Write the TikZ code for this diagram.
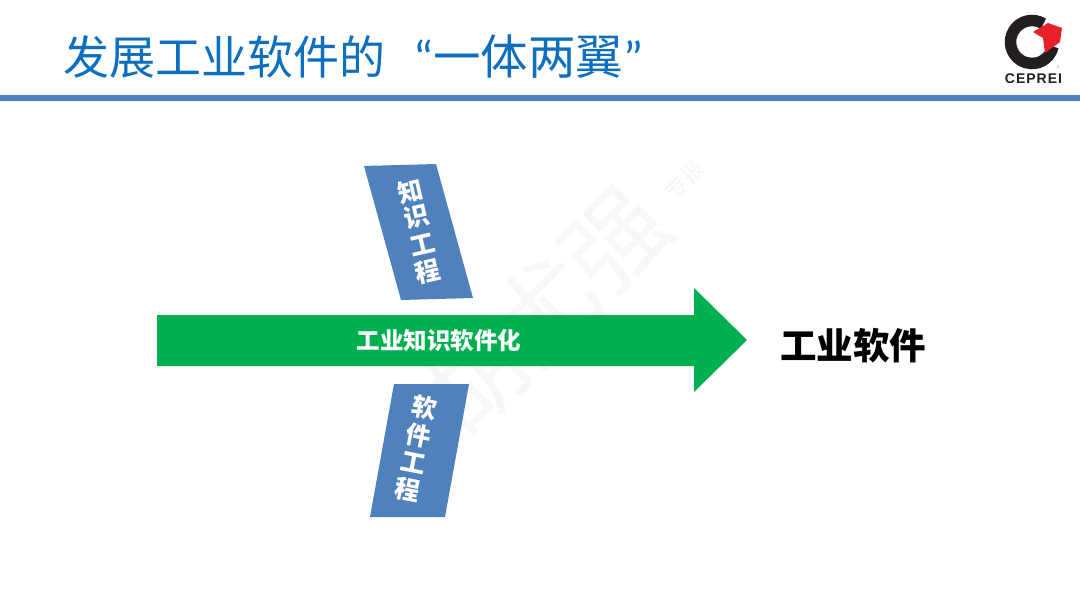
\documentclass[tikz,border=0pt]{standalone}
\usepackage{fontspec}
\setmainfont{Noto Sans CJK SC}
\newfontfamily\latinb[LetterSpace=7]{Liberation Sans}
\newfontfamily\quotefont{Carlito}
\definecolor{titleblue}{HTML}{0F6FBF}
\definecolor{barblue}{HTML}{4F81BD}
\definecolor{arrowgreen}{HTML}{00B050}
\definecolor{logored}{HTML}{E8202A}
\definecolor{logoblack}{HTML}{231F20}
\tikzset{
  x=1pt,y=-1pt,
  wing/.style={fill=barblue,draw=none},
  wingtext/.style={text=white,font=\fontsize{25}{27}\selectfont\bfseries,inner sep=0pt},
}
\begin{document}
\begin{tikzpicture}
\useasboundingbox (0,0) rectangle (1080,608);
\fill[white] (0,0) rectangle (1080,608);
% watermark
\node[text=black!3,rotate=45,font=\fontsize{100}{100}\selectfont,inner sep=0pt] (wm) at (545,310) {胡尤强};
\node[text=black!4,rotate=45,font=\fontsize{22}{22}\selectfont,inner sep=0pt] (wm2) at (685,180) {专报};
% title
\node[anchor=west,text=titleblue,font=\fontsize{46}{50}\selectfont,inner sep=0pt] (title) at (63,57) {发展工业软件的\hspace{28pt}{\quotefont\fontsize{48}{50}\selectfont “}\hspace{0pt}{\fontsize{47.5}{50}\selectfont 一体两翼}{\quotefont\fontsize{48}{50}\selectfont ”}};
\fill[barblue] (0,95) rectangle (1080,101);
% logo
\coordinate (c) at (1032,42);
\draw[logoblack,line width=11.5pt] (c) ++(58:21.5pt) arc[start angle=58,end angle=348,radius=21.5pt];
\fill[logored] (1033,32) -- (1048,23) -- (1062,28) -- (1060,42) -- (1045,53) -- (1043,38) -- cycle;
\node[text=logoblack,font=\latinb\bfseries\fontsize{14}{15}\selectfont,inner sep=0pt] (cep) at (1033.5,79) {CEPREI};
\node[text=logored,font=\fontsize{4}{4}\selectfont,inner sep=0pt] (reg) at (1058,68) {®};
% wings
\fill[wing] (364,166) -- (436,164) -- (473,298) -- (401,300) -- cycle;
\fill[wing] (394,384) -- (469,384) -- (445,517) -- (370,517) -- cycle;
\node[wingtext,rotate=13] (k1) at (411,191) {知};
\node[wingtext,rotate=13] (k2) at (417,217) {识};
\node[wingtext,rotate=13] (k3) at (423,245) {工};
\node[wingtext,rotate=13] (k4) at (428,272) {程};
\node[wingtext,rotate=-11] (s1) at (425,408) {软};
\node[wingtext,rotate=-11] (s2) at (419,436) {件};
\node[wingtext,rotate=-11] (s3) at (413,463) {工};
\node[wingtext,rotate=-11] (s4) at (408,490) {程};
% arrow
\fill[arrowgreen] (157,315) -- (694,315) -- (694,288) -- (747,340) -- (694,392) -- (694,366) -- (157,366) -- cycle;
\node[text=white,font=\fontsize{23.5}{25}\selectfont\bfseries,inner sep=0pt] (core) at (439,341) {工业知识软件化};
\node[text=black,font=\fontsize{36.5}{38}\selectfont\bfseries,inner sep=0pt] (sw) at (853,346) {工业软件};
\end{tikzpicture}
\end{document}
